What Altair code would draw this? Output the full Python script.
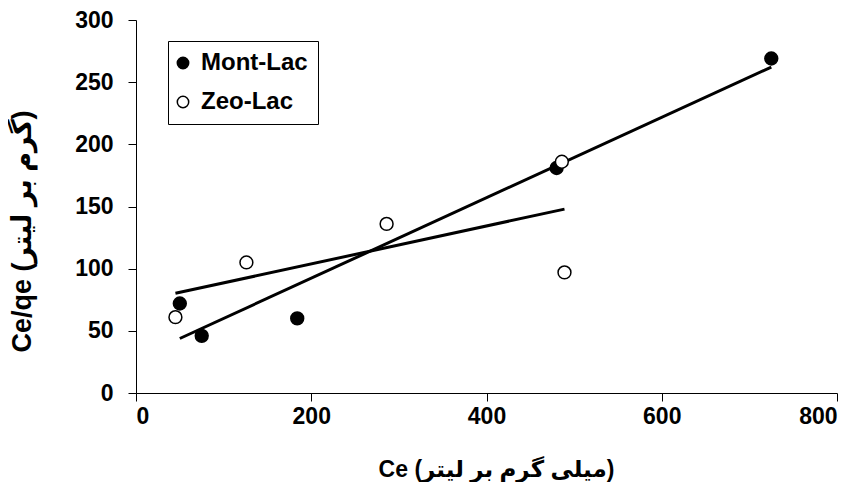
import altair as alt
import pandas as pd

# data
mont_x = [50, 75, 184, 480, 725]
mont_y = [72, 46, 60, 181, 269]
zeo_x = [45, 126, 286, 486, 489]
zeo_y = [61, 105, 136, 186, 97]
series_names = ["Mont-Lac", "Zeo-Lac"]
x_ticks = [0, 200, 400, 600, 800]
y_ticks = [0, 50, 100, 150, 200, 250, 300]

x_title = "Ce (میلی گرم بر لیتر)"
y_title = "Ce/qe (گرم بر لیتر)"

df = pd.DataFrame({
    "x": mont_x + zeo_x,
    "y": mont_y + zeo_y,
    "series": [series_names[0]] * len(mont_x) + [series_names[1]] * len(zeo_x),
})

FONT = "Liberation Sans, Arial, DejaVu Sans, sans-serif"

xenc = alt.X("x:Q", scale=alt.Scale(domain=[0, 800], nice=False),
             axis=alt.Axis(values=x_ticks, title=x_title, grid=False,
                           titleX=360, titleY=76, titleBaseline="middle",
                           titleAlign="center", titleFontSize=23, labelPadding=4))
yenc = alt.Y("y:Q", scale=alt.Scale(domain=[0, 300], nice=False),
             axis=alt.Axis(values=y_ticks, title=y_title, grid=False,
                           titleX=-114, titleY=211, titleBaseline="middle",
                           titleAlign="center", titleAngle=-90, titleFontSize=27,
                           labelPadding=15))

base = alt.Chart(df)

lines = base.transform_regression(
    "x", "y", groupby=["series"]
).mark_line(color="black", strokeWidth=3).encode(
    x=xenc, y=yenc, detail="series:N"
)

points = base.mark_point(shape="circle", size=165, stroke="black",
                         strokeWidth=1.5, opacity=1, fillOpacity=1).encode(
    x=xenc, y=yenc,
    fill=alt.Fill("series:N",
                  scale=alt.Scale(domain=series_names, range=["black", "white"]),
                  legend=alt.Legend(title=None, orient="none", legendX=32, legendY=21,
                                    strokeColor="black", fillColor="white",
                                    padding=10, labelFontSize=24, labelFont=FONT,
                                    labelFontWeight="bold", labelColor="black",
                                    symbolType="circle", symbolSize=130,
                                    symbolOffset=-7,
                                    symbolStrokeColor="black", symbolStrokeWidth=1.5,
                                    rowPadding=15, labelOffset=6)),
)

chart = alt.layer(lines, points).properties(
    width=701, height=373,
    autosize=alt.AutoSizeParams(type="none"),
    padding={"left": 128, "top": 12, "right": 14, "bottom": 89},
).configure_view(stroke=None).configure_axis(
    domainColor="black", domainWidth=1, tickColor="black", tickWidth=1, tickSize=8,
    labelFont=FONT, labelFontSize=23, labelFontWeight="bold", labelColor="black",
    titleFont=FONT, titleFontWeight="bold", titleColor="black",
)

chart.save("out.html", embed_options={"renderer": "svg", "actions": False})
